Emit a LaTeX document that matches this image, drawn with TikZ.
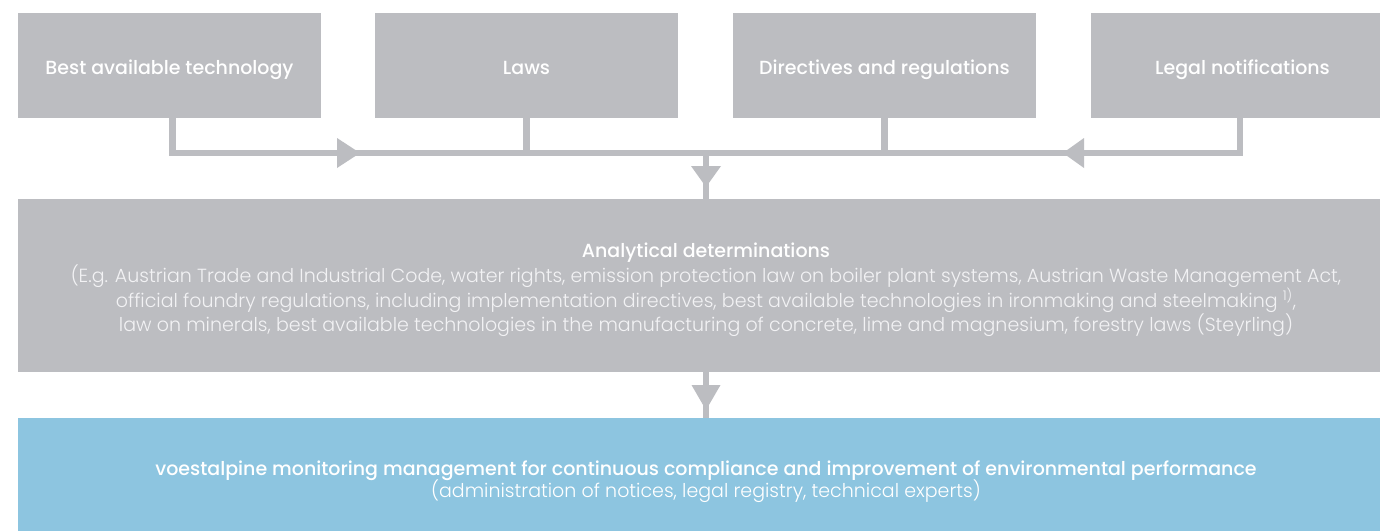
\documentclass[tikz,border=0pt]{standalone}
\usepackage{fontspec}
\setmainfont{Poppins Light}
\newfontfamily\medfont{Poppins Medium}
\usetikzlibrary{calc}
\definecolor{boxgray}{RGB}{188,189,193}
\definecolor{boxblue}{RGB}{141,197,224}
\definecolor{lighttext}{RGB}{242,242,244}
\begin{document}
\begin{tikzpicture}[x=1pt,y=-1pt,
  topbox/.style={fill=boxgray, minimum width=303pt, minimum height=105pt, inner sep=0pt,
    text height=17pt, text depth=0pt,
    text=white, font=\medfont\fontsize{19}{23}\selectfont},
  widebox/.style={minimum width=1376pt, inner sep=0pt},
  conn/.style={draw=boxgray, line width=6.5pt},
  tip/.style={fill=boxgray},
  lightline/.style={anchor=base, inner sep=0pt, text=lighttext, font=\fontsize{19}{23}\selectfont},
  boldline/.style={anchor=base, inner sep=0pt, text=white, font=\medfont\fontsize{19}{23}\selectfont}]
\clip (0,0) rectangle (1380,531);
\fill[white] (0,0) rectangle (1380,531);
% top boxes
\node[topbox] (b1) at (169.5,65.5) {Best available technology};
\node[topbox] (b2) at (526.5,65.5) {Laws};
\node[topbox] (b3) at (884.5,65.5) {Directives and regulations};
\node[topbox] (b4) at (1242.5,65.5) {Legal notifications};
% wide boxes
\node[widebox, fill=boxgray, minimum height=173pt] (mid) at (706,285.5) {};
\node[widebox, fill=boxblue, minimum height=113pt] (blue) at (706,474.5) {};
% connectors
\coordinate (j) at (706,153);
\draw[conn] ([xshift=3pt]b1.south) |- (j);
\draw[conn] ([xshift=-2.5pt]b4.south) |- (j);
\draw[conn] (b2.south) -- (b2.south |- j);
\draw[conn] (b3.south) -- (b3.south |- j);
\draw[conn] (j) -- (mid.north);
\draw[conn] (mid.south) -- (blue.north);
% arrowheads
\fill[tip] (337,138) -- (360,153) -- (337,168) -- cycle;
\fill[tip] (1084,138) -- (1063,153) -- (1084,168) -- cycle;
\fill[tip] (691,166) -- (721,166) -- (706,187) -- cycle;
\fill[tip] (691.5,385) -- (720.5,385) -- (706,410) -- cycle;
% texts in the middle box
\node[boldline] (midtitle) at (706,257) {Analytical determinations};
\node[lightline] (midl1) at (706,282.5) {(E.g. Austrian Trade and Industrial Code, water rights, emission protection law on boiler plant systems, Austrian Waste Management Act,};
\node[lightline] (midl2) at (706,307) {official foundry regulations, including implementation directives, best available technologies in ironmaking and steelmaking \textsuperscript{1)},};
\node[lightline] (midl3) at (706,331.5) {law on minerals, best available technologies in the manufacturing of concrete, lime and magnesium, forestry laws (Steyrling)};
% texts in the blue box
\node[boldline] (bluel1) at (706,475) {voestalpine monitoring management for continuous compliance and improvement of environmental performance};
\node[lightline, text=white] (bluel2) at (706,497.5) {(administration of notices, legal registry, technical experts)};
\end{tikzpicture}
\end{document}
